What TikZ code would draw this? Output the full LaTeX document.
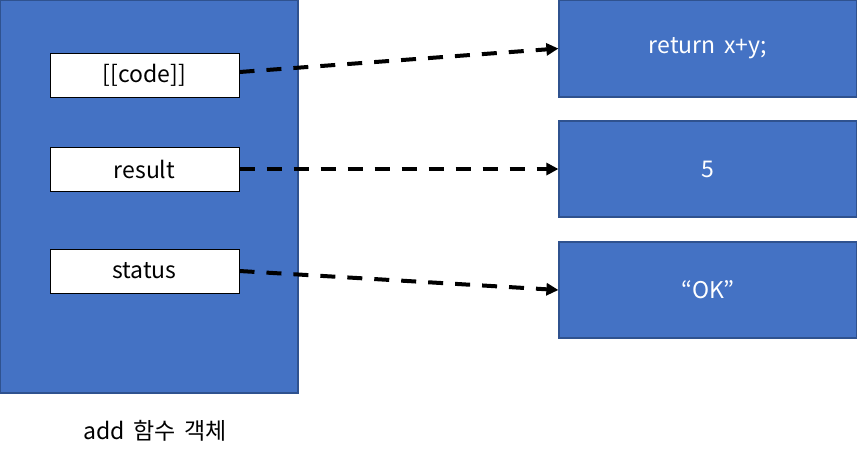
\documentclass[tikz,border=0pt]{standalone}
\usepackage{fontspec}
\setmainfont[WordSpace=1.7]{Noto Sans CJK KR}
\usetikzlibrary{arrows.meta}
\definecolor{boxblue}{HTML}{4472C4}
\definecolor{boxedge}{HTML}{2F528F}
\begin{document}
\begin{tikzpicture}[x=0.5pt, y=-0.5pt, every node/.style={inner sep=0pt, font=\fontsize{11.5}{13}\selectfont},
		outer/.style={draw=boxedge, fill=boxblue, line width=0.6pt, text=white},
		slot/.style={draw=black, fill=white, line width=0.5pt, minimum width=94.5pt, minimum height=22pt},
		link/.style={line width=2pt, dash pattern=on 7.5pt off 6pt, -{Triangle[length=6pt, width=6pt]}}]
		\useasboundingbox (0,0) rectangle (857,457);
		\node[outer, minimum width=149pt, minimum height=196.5pt] (obj) at (149,196.5) {};
		\node[slot] (code) at (144.5,75) {[[code]]};
		\node[slot] (result) at (144.5,169) {result};
		\node[slot] (status) at (144.5,271) {status};
		\node (name) at (155,431) {add 함수 객체};
		\node[outer, minimum width=149pt, minimum height=48.5pt] (body) at (708,48.5) {return x+y;};
		\node[outer, minimum width=149pt, minimum height=48pt] (value) at (708,169) {5};
		\node[outer, minimum width=149pt, minimum height=48pt] (state) at (708,290) {“OK”};
		\draw[link] (code.east) ++(0,-3) coordinate (c1) (c1) -- (body.west);
		\draw[link] (result.east) -- (value.west);
		\draw[link] (status.east) -- (state.west);
	\end{tikzpicture}
\end{document}
